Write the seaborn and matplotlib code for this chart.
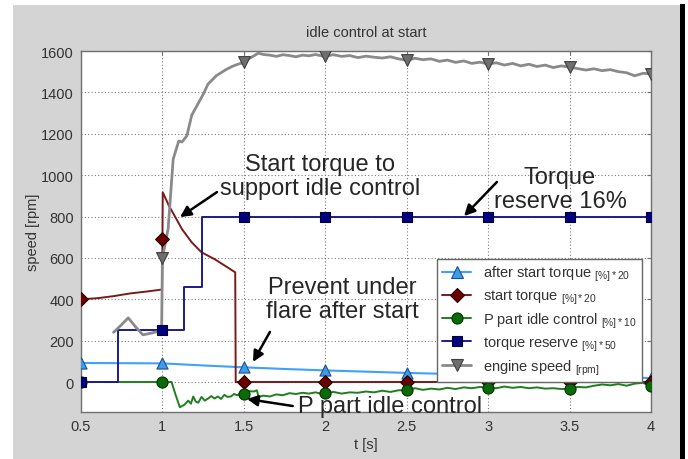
import numpy as np
import pandas as pd
import matplotlib
matplotlib.use("Agg")
import matplotlib.pyplot as plt
from matplotlib.patches import Rectangle
from matplotlib.lines import Line2D
import seaborn as sns

# ---------------- data ----------------
marker_t = [0.5, 1.0, 1.5, 2.0, 2.5, 3.0, 3.5, 4.0]

after_t = [0.5, 0.75, 1.0, 1.25, 1.5, 1.75, 2.0, 2.25, 2.5, 2.75, 3.0, 3.25, 3.5, 3.75, 4.0]
after_v = [92, 91, 90, 80, 71, 63, 56, 50, 44, 39, 35, 31, 27, 23, 19]

start_t = [0.5, 0.6, 0.7, 0.8, 0.9, 0.998, 1.0, 1.002, 1.04, 1.08, 1.12, 1.18, 1.24, 1.32,
           1.40, 1.447, 1.45, 1.5, 2.0, 2.5, 3.0, 3.5, 4.0]
start_v = [400, 405, 415, 428, 437, 447, 690, 917, 852, 796, 739, 675, 627, 594,
           554, 530, 0, 0, 0, 0, 0, 0, 0]

ppart_t = [0.5, 1.0, 1.056, 1.08, 1.107, 1.135, 1.158, 1.175, 1.189, 1.205, 1.22, 1.24,
           1.26, 1.28, 1.30, 1.32, 1.34, 1.36, 1.38, 1.40, 1.42, 1.44, 1.46, 1.48, 1.5,
           1.53, 1.56, 1.58, 1.59, 1.62, 1.66, 1.70, 1.74, 1.78, 1.82, 1.86, 1.90, 1.94,
           1.98, 2.0, 2.05, 2.10, 2.15, 2.20, 2.25, 2.30, 2.35, 2.40, 2.45, 2.5, 2.55,
           2.60, 2.65, 2.70, 2.75, 2.80, 2.85, 2.90, 2.95, 3.0, 3.05, 3.10, 3.15, 3.20,
           3.25, 3.30, 3.35, 3.40, 3.45, 3.5, 3.55, 3.60, 3.65, 3.70, 3.75, 3.80, 3.85,
           3.90, 3.95, 4.0]
ppart_v = [0, 0, 0, -60, -122, -110, -90, -105, -70, -95, -100, -72,
           -90, -80, -68, -80, -70, -82, -62, -72, -70, -58, -64, -55, -58,
           -44, -46, -40, -72, -66, -70, -60, -64, -54, -58, -52, -56, -50,
           -58, -55, -48, -56, -50, -52, -46, -50, -42, -48, -40, -40, -30,
           -38, -32, -36, -28, -34, -26, -30, -24, -28, -30, -22, -28, -24,
           -30, -26, -32, -30, -34, -32, -24, -26, -18, -12, -16, -10, -18,
           -8, -4, -20]

reserve_t = [0.5, 0.73, 0.73, 1.0, 1.135, 1.135, 1.24, 1.24, 1.5, 2.0, 2.5, 3.0, 3.5, 4.0]
reserve_v = [0, 0, 252, 252, 252, 458, 458, 800, 800, 800, 800, 800, 800, 800]

speed_t = [0.70, 0.74, 0.79, 0.84, 0.88, 0.93, 0.97, 0.995, 1.0, 1.035, 1.066, 1.10, 1.12,
           1.15, 1.18, 1.21, 1.25, 1.28, 1.33, 1.39, 1.43, 1.46, 1.5, 1.53, 1.56, 1.59,
           1.62, 1.66, 1.70, 1.74, 1.78, 1.82, 1.86, 1.90, 1.94, 1.98, 2.0, 2.05, 2.10,
           2.15, 2.20, 2.25, 2.30, 2.35, 2.40, 2.45, 2.5, 2.55, 2.60, 2.65, 2.70, 2.75,
           2.80, 2.85, 2.90, 2.95, 3.0, 3.05, 3.10, 3.15, 3.20, 3.25, 3.30, 3.35, 3.40,
           3.45, 3.5, 3.55, 3.60, 3.65, 3.70, 3.75, 3.80, 3.85, 3.90, 3.95, 4.0]
speed_v = [240, 270, 310, 262, 228, 236, 244, 250, 600, 740, 1077, 1165, 1160,
           1190, 1290, 1333, 1390, 1440, 1480, 1510, 1526, 1535, 1545, 1562, 1576, 1590,
           1583, 1580, 1574, 1582, 1578, 1572, 1580, 1577, 1583, 1576, 1575, 1582, 1574,
           1578, 1568, 1575, 1570, 1566, 1572, 1562, 1555, 1565, 1558, 1562, 1550, 1556,
           1545, 1552, 1540, 1546, 1537, 1543, 1532, 1540, 1528, 1536, 1525, 1532, 1520,
           1528, 1522, 1515, 1508, 1514, 1505, 1510, 1500, 1495, 1480, 1492, 1490]

series_names = ["after start torque", "start torque", "P part idle control",
                "torque reserve", "engine speed"]
series_units = ["[%]*20", "[%]*20", "[%]*10", "[%]*50", "[rpm]"]

yticks = [0, 200, 400, 600, 800, 1000, 1200, 1400, 1600]
xticks = [0.5, 1, 1.5, 2, 2.5, 3, 3.5, 4]
xticklabels = ["0.5", "1", "1.5", "2", "2.5", "3", "3.5", "4"]

# ---------------- styling ----------------
sns.set_style("white")
plt.rcParams["font.family"] = ["Liberation Sans", "DejaVu Sans"]
plt.rcParams["mathtext.fontset"] = "custom"
plt.rcParams["mathtext.rm"] = "Liberation Sans"

line_colors = ["#3fa0ff", "#7a1a1a", "#1f7f1f", "#1c1c8c", "#8a8a8a"]
face_colors = ["#3d9be9", "#6a0000", "#0a6a0a", "#000080", "#6e6e6e"]
edge_colors = ["#1f4f8f", "#2a0000", "#003300", "#000030", "#404040"]
markers = ["^", "D", "o", "s", "v"]
msizes = [8, 7, 8, 7, 8.5]
lws = [1.5, 1.4, 1.4, 1.4, 2.0]

fig = plt.figure(figsize=(6.88, 4.60), dpi=100)
fig.patch.set_facecolor("white")
fig.patches.append(Rectangle((13 / 688, 0), (680 - 13) / 688, (460 - 6) / 460,
                             transform=fig.transFigure, facecolor="#d4d4d4",
                             edgecolor="none", zorder=-10))
fig.patches.append(Rectangle((680 / 688, 0), 5 / 688, (460 - 5) / 460,
                             transform=fig.transFigure, facecolor="black",
                             edgecolor="none", zorder=-9))

ax = fig.add_axes([81 / 688, (460 - 413) / 460, 570 / 688, 361 / 460])
ax.set_facecolor("white")

all_t = [after_t, start_t, ppart_t, reserve_t, speed_t]
all_v = [after_v, start_v, ppart_v, reserve_v, speed_v]

handles = []
for i in range(5):
    df = pd.DataFrame({"t": all_t[i], "v": all_v[i]})
    sns.lineplot(data=df, x="t", y="v", ax=ax, estimator=None, sort=False,
                 color=line_colors[i], lw=lws[i], zorder=3 + i, legend=False)
    mk = df[np.isin(np.round(df["t"], 3), marker_t)]
    if i == 1:
        mk = mk[mk["t"] != 1.45]
    if i == 3:
        mk = mk.drop_duplicates("t", keep="first")
    sns.scatterplot(data=mk, x="t", y="v", ax=ax, marker=markers[i],
                    s=msizes[i] ** 2, color=face_colors[i], edgecolor=edge_colors[i],
                    linewidth=0.8, zorder=10 + i, legend=False)
    lab = series_names[i] + r" $_{\mathrm{" + series_units[i].replace("%", r"\%") + r"}}$"
    handles.append(Line2D([0], [0], color=line_colors[i], lw=lws[i], marker=markers[i],
                          markersize=msizes[i], markerfacecolor=face_colors[i],
                          markeredgecolor=edge_colors[i], markeredgewidth=0.8, label=lab))

ax.set_xlim(0.5, 4.0)
ax.set_ylim(-145, 1600)
ax.set_xticks(xticks)
ax.set_xticklabels(xticklabels)
ax.set_yticks(yticks)
ax.grid(True, linestyle=(0, (1, 2)), color="#7a7a7a", lw=0.8)
ax.set_axisbelow(True)
for sp in ax.spines.values():
    sp.set_color("#707070")
    sp.set_linewidth(1.0)
ax.tick_params(direction="in", length=3, color="#707070", labelsize=10.5,
               labelcolor="#333333", top=True, right=True, pad=5)
ax.set_xlabel("t [s]", fontsize=10.5, color="#333333", labelpad=3)
ax.set_ylabel("speed [rpm]", fontsize=10.5, color="#333333", labelpad=1)
fig.text((81 + 651) / 2 / 688, 1 - 33 / 460, "idle control at start", ha="center",
         va="center", fontsize=10.5, color="#333333")

leg = ax.legend(handles=handles, loc="upper right", bbox_to_anchor=(0.997, 0.445),
                fontsize=10.5, frameon=True, fancybox=False, framealpha=1,
                edgecolor="#666666", labelspacing=0.3, handlelength=2.0,
                borderpad=0.35, handletextpad=0.8)
leg.get_frame().set_linewidth(1.0)
leg.set_zorder(20)
for txt in leg.get_texts():
    txt.set_color("#333333")

# ---------------- annotations ----------------
arrow = dict(arrowstyle="-|>", color="black", lw=1.8, mutation_scale=16,
             shrinkA=0, shrinkB=0)
afs = 17
ax.text(1.967, 995, "Start torque to\nsupport idle control", ha="center", va="center",
        fontsize=afs, zorder=25, linespacing=1.1)
ax.annotate("", xy=(1.108, 797), xytext=(1.335, 918), arrowprops=arrow, zorder=25)

ax.text(3.441, 933, "Torque\nreserve 16%", ha="center", va="center",
        fontsize=afs, zorder=25, linespacing=1.1)
ax.annotate("", xy=(2.852, 802), xytext=(3.054, 967), arrowprops=arrow, zorder=25)

ax.text(2.103, 401, "Prevent under\nflare after start", ha="center", va="center",
        fontsize=afs, zorder=25, linespacing=1.1)
ax.annotate("", xy=(1.556, 97), xytext=(1.66, 242), arrowprops=arrow, zorder=25)

ax.text(1.83, -116, "P part idle control", ha="left", va="center",
        fontsize=afs, zorder=25)
ax.annotate("", xy=(1.519, -82), xytext=(1.80, -116), arrowprops=arrow, zorder=25)

fig.savefig("out.png", dpi=100)
